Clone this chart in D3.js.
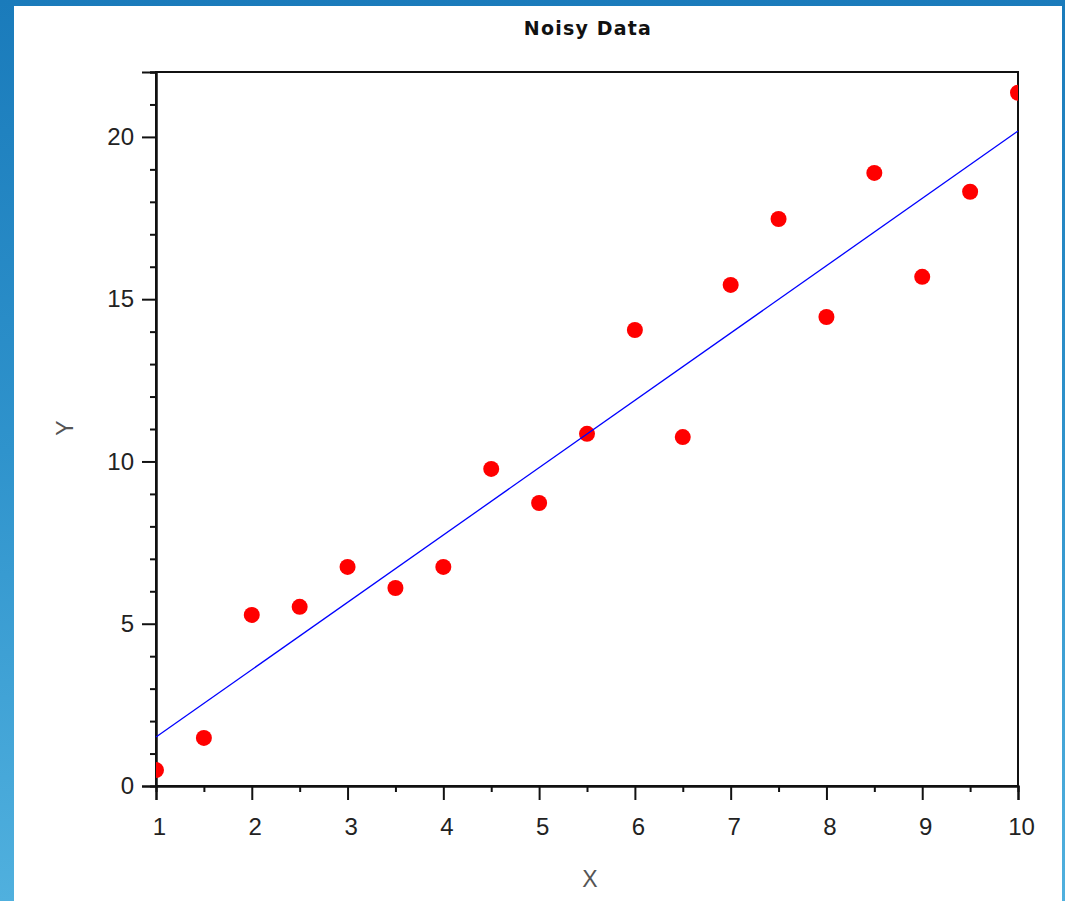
<!DOCTYPE html>
<html>
<head>
<meta charset="utf-8">
<script src="https://cdn.jsdelivr.net/npm/d3@7"></script>
<style>
  html, body { margin: 0; padding: 0; }
  body {
    width: 1065px; height: 901px; overflow: hidden;
    background: linear-gradient(to bottom, #1a7bbb 0%, #2f93cc 50%, #50b0de 100%);
  }
  #chart { position: absolute; left: 0; top: 0; }
</style>
</head>
<body>
<div id="chart"></div>
<script>
// data
var xs = [1, 1.5, 2, 2.5, 3, 3.5, 4, 4.5, 5, 5.5, 6, 6.5, 7, 7.5, 8, 8.5, 9, 9.5, 10];
var ys = [0.49, 1.48, 5.27, 5.52, 6.75, 6.10, 6.75, 9.77, 8.72, 10.85, 14.05, 10.75, 15.44, 17.47, 14.45, 18.89, 15.69, 18.31, 21.36];
// fitted line end points
var fitX = [1, 10];
var fitY = [1.51, 20.18];
var xTicks = [1, 2, 3, 4, 5, 6, 7, 8, 9, 10];
var yTicks = [0, 5, 10, 15, 20];

var width = 1065, height = 901;
var plotLeft = 156, plotRight = 1018, plotTop = 72, plotBottom = 786;

var svg = d3.select("#chart")
  .append("svg")
  .attr("width", width)
  .attr("height", height);

// white panel over the blue backdrop
svg.append("rect")
  .attr("x", 14).attr("y", 6)
  .attr("width", 1048).attr("height", height - 6)
  .attr("fill", "white");

var x = d3.scaleLinear().domain([1, 10]).range([plotLeft, plotRight]);
var y = d3.scaleLinear().domain([0, 22]).range([plotBottom, plotTop]);

// frame
svg.append("rect")
  .attr("x", plotLeft).attr("y", plotTop)
  .attr("width", plotRight - plotLeft).attr("height", plotBottom - plotTop)
  .attr("fill", "none")
  .attr("stroke", "#111")
  .attr("stroke-width", 2);

// minor ticks (drawn first, majors on top)
var xMinor = d3.axisBottom(x).tickValues(d3.range(1.5, 10, 1)).tickSize(6).tickFormat("");
var yMinor = d3.axisLeft(y).tickValues(d3.range(1, 23, 1).filter(function(d) { return d % 5; })).tickSize(6).tickFormat("");

svg.append("g").attr("transform", "translate(0," + plotBottom + ")").call(xMinor);
svg.append("g").attr("transform", "translate(" + plotLeft + ",0)").call(yMinor);

var xAxis = d3.axisBottom(x).tickValues(xTicks).tickSize(14).tickPadding(18);
var yAxis = d3.axisLeft(y).tickValues(yTicks).tickSize(14).tickPadding(8);

svg.append("g").attr("class", "xaxis").attr("transform", "translate(0," + plotBottom + ")").call(xAxis);
svg.append("g").attr("class", "yaxis").attr("transform", "translate(" + plotLeft + ",0)").call(yAxis);

svg.selectAll(".domain").attr("stroke", "#111").attr("stroke-width", 2);
svg.selectAll(".tick line").attr("stroke", "#111").attr("stroke-width", 2);
svg.selectAll(".tick text")
  .attr("fill", "#222")
  .style("font-family", "'Liberation Sans', Arial, sans-serif")
  .style("font-size", "24px");
svg.selectAll(".xaxis .tick text").attr("dx", 3);

// points, clipped by the frame
svg.append("clipPath").attr("id", "clip")
  .append("rect")
  .attr("x", plotLeft).attr("y", plotTop)
  .attr("width", plotRight - plotLeft).attr("height", plotBottom - plotTop);

svg.append("g")
  .attr("clip-path", "url(#clip)")
  .selectAll(".dots")
  .data(d3.zip(xs, ys))
  .enter()
  .append("circle")
  .attr("class", "dots")
  .attr("cx", function(d) { return x(d[0]); })
  .attr("cy", function(d) { return y(d[1]); })
  .attr("r", 8)
  .attr("fill", "#ff0000");

// fit line, on top of the dots
var line = d3.line()
  .x(function(d) { return x(d[0]); })
  .y(function(d) { return y(d[1]); });

svg.append("path")
  .datum(d3.zip(fitX, fitY))
  .attr("d", line)
  .attr("fill", "none")
  .attr("stroke", "#0000ff")
  .attr("stroke-width", 1.3);

// title and labels
svg.append("text")
  .attr("x", 588).attr("y", 35)
  .attr("text-anchor", "middle")
  .style("font-family", "'DejaVu Sans', sans-serif")
  .style("font-weight", "bold")
  .style("font-size", "19px")
  .style("letter-spacing", "1.2px")
  .attr("fill", "#111")
  .text("Noisy Data");

svg.append("text")
  .attr("x", 590).attr("y", 887)
  .attr("text-anchor", "middle")
  .style("font-family", "'Liberation Sans', Arial, sans-serif")
  .style("font-size", "23px")
  .attr("fill", "#555")
  .text("X");

svg.append("text")
  .attr("transform", "translate(73,428) rotate(-90)")
  .attr("text-anchor", "middle")
  .style("font-family", "'Liberation Sans', Arial, sans-serif")
  .style("font-size", "23px")
  .attr("fill", "#555")
  .text("Y");
</script>
</body>
</html>
